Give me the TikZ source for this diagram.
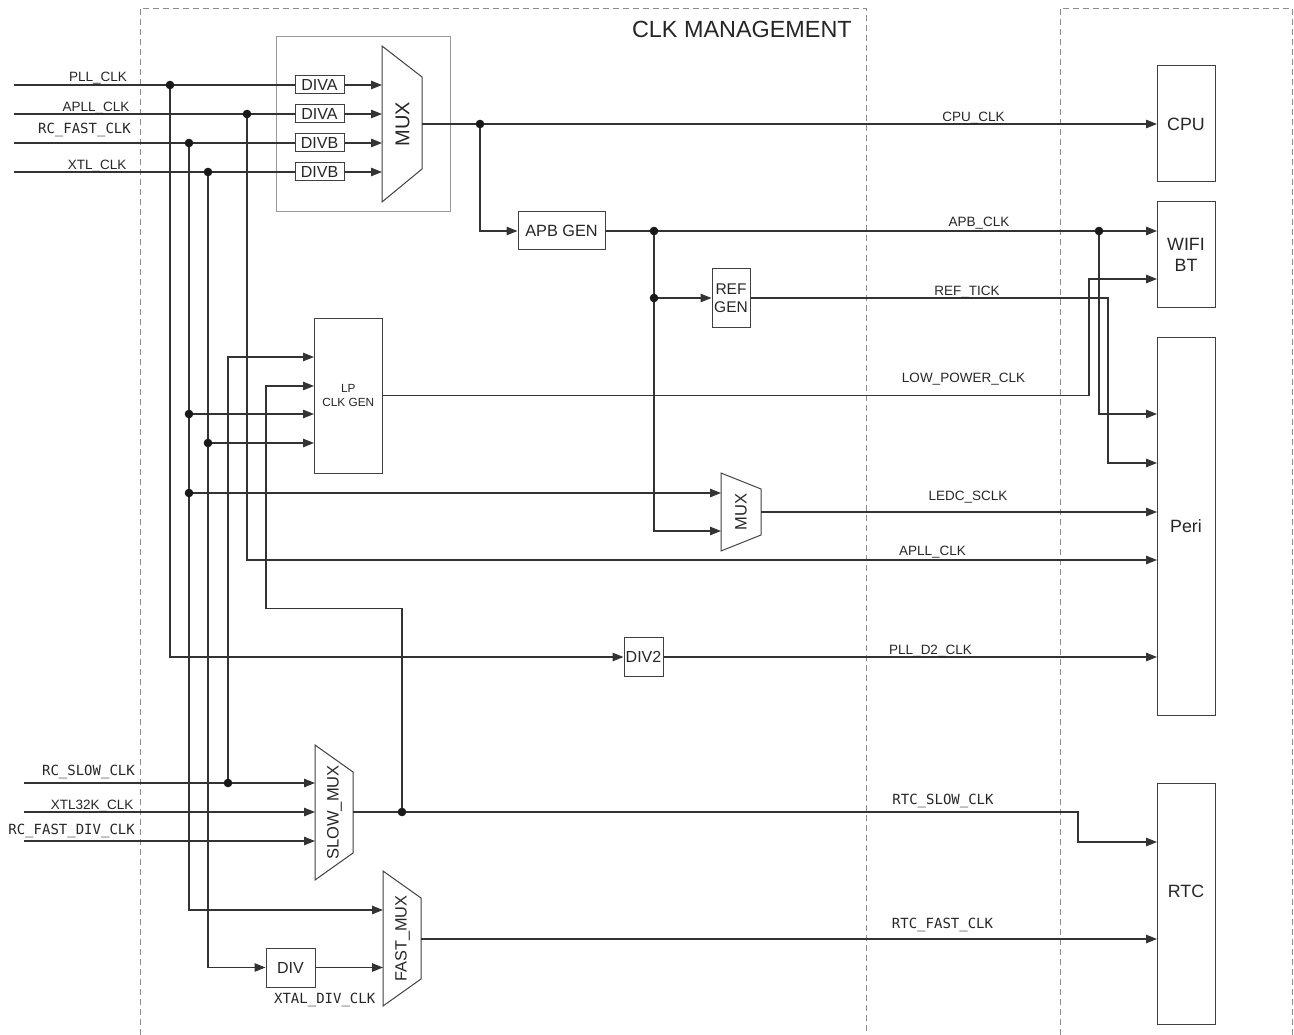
\documentclass[tikz,border=0pt]{standalone}
\usepackage{fontspec}
\setmainfont{Liberation Sans}
\newfontfamily\monof{DejaVu Sans Mono}
\usetikzlibrary{arrows.meta}
\begin{document}
\begin{tikzpicture}[x=1pt,y=-1pt,
  wire/.style={draw=black!80, line width=1.1pt},
  arr/.style={wire, -{Triangle[length=11pt,width=8.5pt]}},
  bnd/.style={draw=black!45, line width=0.8pt, dash pattern=on 6pt off 4pt},
  blk/.style={draw=black!75, line width=1pt, fill=white, inner sep=0pt, align=center, text=black!85},
  trap/.style={draw=black!75, line width=1pt, fill=white},
  lbl/.style={inner sep=0pt, text=black!85, font=\fontsize{13.5}{14}\selectfont},
  mlbl/.style={inner sep=0pt, text=black!85, font=\monof\fontsize{14}{15}\selectfont},
  dotc/.style={fill=black!90}
]
\useasboundingbox (0,0) rectangle (1294,1035);
% boundaries
\draw[bnd] (140,1035) -- (140,8) -- (866,8) -- (866,1035);
\draw[bnd] (1060,1035) -- (1060,8) -- (1292,8) -- (1292,1035);
\node[lbl, font=\fontsize{23.4}{25}\selectfont, anchor=base east] (title) at (852,38) {CLK MANAGEMENT};
% group box
\node[draw=black!40, line width=1pt, minimum width=174pt, minimum height=175pt, inner sep=0pt] (grp) at (363,124.5) {};

% blocks
\foreach \n/\y/\t in {da1/85/DIVA, da2/114/DIVA, db1/143/DIVB, db2/172/DIVB}
  \node[blk, minimum width=49pt, minimum height=18pt, font=\fontsize{16}{17}\selectfont] (\n) at (319.5,\y) {\t};
\node[blk, minimum width=87pt, minimum height=38pt, font=\fontsize{16.3}{17}\selectfont] (apb) at (561.5,231) {APB GEN};
\node[blk, minimum width=38pt, minimum height=58pt, font=\fontsize{15.5}{18}\selectfont] (ref) at (731,298) {REF\\GEN};
\node[blk, minimum width=68.5pt, minimum height=155pt, font=\fontsize{11.8}{13.5}\selectfont] (lp) at (348.25,395.5) {LP\\CLK GEN};
\node[blk, minimum width=39pt, minimum height=39pt, font=\fontsize{16}{17}\selectfont] (div2) at (643.5,657) {DIV2};
\node[blk, minimum width=49pt, minimum height=39pt, font=\fontsize{16}{17}\selectfont] (div) at (290.5,967.5) {DIV};
\node[blk, minimum width=58pt, minimum height=116pt, font=\fontsize{17.8}{19}\selectfont] (cpu) at (1186,124) {CPU};
\node[blk, minimum width=58pt, minimum height=106pt, font=\fontsize{17.8}{20.5}\selectfont] (wifi) at (1186,255) {WIFI\\BT};
\node[blk, minimum width=58pt, minimum height=378pt, font=\fontsize{17.8}{19}\selectfont] (peri) at (1186,526) {Peri};
\node[blk, minimum width=58pt, minimum height=241pt] (rtc) at (1186,903.5) {};
\node[lbl, font=\fontsize{17.8}{19}\selectfont] (rtct) at (1186,891.5) {RTC};

% trapezoids
\draw[trap] (382,46) -- (422,77) -- (422,169) -- (382,202) -- cycle;
\node[lbl, rotate=90, font=\fontsize{20}{21}\selectfont] (mux) at (402.5,124) {MUX};
\draw[trap] (721,473) -- (761,489) -- (761,535) -- (721,551) -- cycle;
\node[lbl, rotate=90, font=\fontsize{16.5}{17}\selectfont] (lmux) at (741,512) {MUX};
\draw[trap] (315,745) -- (353,772) -- (353,853) -- (315,880) -- cycle;
\node[lbl, rotate=90, font=\fontsize{16.5}{17}\selectfont] (smux) at (334.5,812.5) {SLOW\_MUX};
\draw[trap] (383,871) -- (421,898) -- (421,979) -- (383,1006) -- cycle;
\node[lbl, rotate=90, font=\fontsize{16.3}{17}\selectfont] (fmux) at (402.5,938.5) {FAST\_MUX};

% pins
\coordinate (m1) at (382,85); \coordinate (m2) at (382,114);
\coordinate (m3) at (382,143); \coordinate (m4) at (382,172);
\coordinate (mout) at (422,124);
\coordinate (l1) at (721,493); \coordinate (l2) at (721,531); \coordinate (lout) at (761,512);
\coordinate (s1) at (315,783); \coordinate (s2) at (315,812); \coordinate (s3) at (315,841); \coordinate (sout) at (353,812);
\coordinate (f1) at (383,910); \coordinate (f2) at (383,967.5); \coordinate (fout) at (421,939);
\coordinate (lp1) at (314,357); \coordinate (lp2) at (314,386); \coordinate (lp3) at (314,414); \coordinate (lp4) at (314,443);
% inputs
\coordinate (i1) at (14,85); \coordinate (i2) at (14,114); \coordinate (i3) at (14,143); \coordinate (i4) at (14,172);
\coordinate (i5) at (24,783); \coordinate (i6) at (24,812); \coordinate (i7) at (24,841);
% junctions
\coordinate (jpll) at (170,85); \coordinate (japll) at (247,114); \coordinate (jrcf) at (189,143); \coordinate (jxtl) at (208,172);
\coordinate (jrcf2) at (189,414); \coordinate (jrcf3) at (189,493); \coordinate (jxtl2) at (208,443);
\coordinate (jrcs) at (228,783); \coordinate (jslow) at (402,812);
\coordinate (jcpu) at (480,124); \coordinate (japb) at (654,231); \coordinate (japb2) at (654,298); \coordinate (japb3) at (1099,231);
% sinks
\coordinate (cpu1) at (1157,124); \coordinate (w1) at (1157,231); \coordinate (w2) at (1157,279);
\coordinate (p1) at (1157,414); \coordinate (p2) at (1157,463); \coordinate (p3) at (1157,512);
\coordinate (p4) at (1157,560); \coordinate (p5) at (1157,657);
\coordinate (r1) at (1157,842); \coordinate (r2) at (1157,939);

% top inputs
\draw[wire] (i1) -- (da1.west); \draw[wire] (i2) -- (da2.west);
\draw[wire] (i3) -- (db1.west); \draw[wire] (i4) -- (db2.west);
\draw[arr] (da1.east) -- (m1); \draw[arr] (da2.east) -- (m2);
\draw[arr] (db1.east) -- (m3); \draw[arr] (db2.east) -- (m4);
% verticals
\draw[arr] (jpll) |- (div2.west);
\draw[arr] (japll) |- (p4);
\draw[arr] (jrcf) |- (f1);
\draw[arr] (jxtl) |- (div.west);
\draw[arr] (jrcf2) -- (lp3);
\draw[arr] (jxtl2) -- (lp4);
\draw[arr] (jrcf3) -- (l1);
\draw[arr] (jrcs) |- (lp1);
\draw[arr] (jslow) |- (266,608.5) |- (lp2);
\draw[arr] (div.east) -- (f2);
% slow inputs
\draw[arr] (i5) -- (s1); \draw[arr] (i6) -- (s2); \draw[arr] (i7) -- (s3);
% outputs
\draw[arr] (mout) -- (cpu1);
\draw[arr] (jcpu) |- (apb.west);
\draw[arr] (apb.east) -- (w1);
\draw[arr] (japb) |- (l2);
\draw[arr] (japb2) -- (ref.west);
\draw[arr] (ref.east) -- (1108,298) |- (p2);
\draw[arr] (japb3) |- (p1);
\draw[arr] (lp.east) -- (1089,395.5) |- (w2);
\draw[arr] (lout) -- (p3);
\draw[arr] (div2.east) -- (p5);
\draw[arr] (sout) -- (1078,812) |- (r1);
\draw[arr] (fout) -- (r2);
% dots
\foreach \c in {jpll,japll,jrcf,jxtl,jrcf2,jrcf3,jxtl2,jrcs,jslow,jcpu,japb,japb2,japb3}
  \fill[dotc] (\c) circle (4.3);

% input labels
\node[lbl, anchor=base east] (tpll) at (127,81.5) {PLL\_CLK};
\node[lbl, anchor=base east] (tapll) at (129.5,111.5) {APLL\_CLK};
\node[mlbl, anchor=base east] (trcf) at (131,134) {RC\_FAST\_CLK};
\node[lbl, anchor=base east] (txtl) at (126.5,170) {XTL\_CLK};
\node[mlbl, anchor=base east] (trcs) at (135,775) {RC\_SLOW\_CLK};
\node[lbl, anchor=base east] (tx32) at (133.5,809) {XTL32K\_CLK};
\node[mlbl, anchor=base east] (trcfd) at (135,834) {RC\_FAST\_DIV\_CLK};
\node[mlbl, anchor=base] (txd) at (324.7,1003.3) {XTAL\_DIV\_CLK};
% wire labels
\node[lbl, anchor=base] (tcpu) at (973.5,121.5) {CPU\_CLK};
\node[lbl, anchor=base] (tapb) at (979,227) {APB\_CLK};
\node[lbl, anchor=base] (tref) at (967,296) {REF\_TICK};
\node[lbl, anchor=base] (tlow) at (963.5,382.7) {LOW\_POWER\_CLK};
\node[lbl, anchor=base] (tledc) at (968,500.7) {LEDC\_SCLK};
\node[lbl, anchor=base] (tapll2) at (932.5,555) {APLL\_CLK};
\node[lbl, anchor=base] (tpd2) at (930.5,654) {PLL\_D2\_CLK};
\node[mlbl, anchor=base] (trs) at (943,804.3) {RTC\_SLOW\_CLK};
\node[mlbl, anchor=base] (trf) at (942.5,928.3) {RTC\_FAST\_CLK};
\end{tikzpicture}
\end{document}
